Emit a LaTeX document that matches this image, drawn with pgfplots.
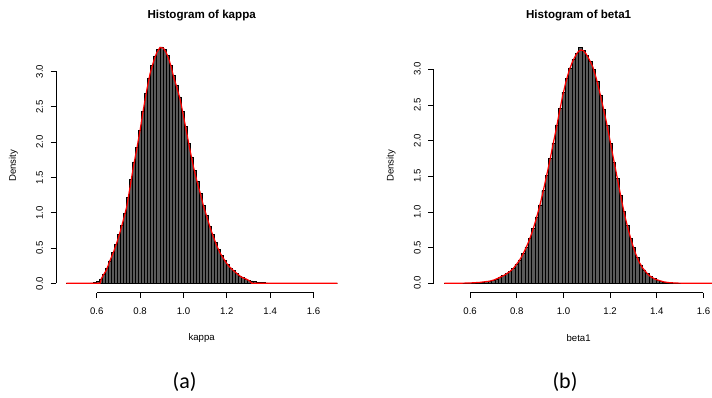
\documentclass[border=0pt]{standalone}
\usepackage{pgfplots}
\pgfplotsset{compat=1.18}
\usepackage{pgfplotstable}
\usepackage{fontspec}
\setmainfont{Liberation Sans}
\newfontfamily\carlito{Carlito}

% bar heights of the histogram of kappa (90 bins, 0.46 .. 1.71), last row repeats
\pgfplotstableread{
h
0
0
0
0
0
0
0.001
0.003
0.007
0.015
0.032
0.065
0.13
0.22
0.32
0.44
0.55
0.69
0.82
0.99
1.22
1.47
1.72
1.93
2.17
2.44
2.69
2.91
3.09
3.22
3.31
3.35
3.31
3.23
3.09
2.94
2.80
2.64
2.44
2.22
1.98
1.79
1.60
1.44
1.27
1.10
0.96
0.81
0.69
0.58
0.48
0.40
0.33
0.27
0.22
0.18
0.14
0.105
0.08
0.062
0.047
0.034
0.024
0.017
0.012
0.009
0.006
0.004
0.003
0.002
0.0015
0.001
0.0007
0.0005
0
0
0
0
0
0
0
0
0
0
0
0
0
0
0
0
0
}\kappahist

% bar heights of the histogram of beta1 (80 bins, 0.49 .. 1.64), last row repeats
\pgfplotstableread{
h
0
0
0.0005
0.0008
0.001
0.002
0.003
0.005
0.007
0.010
0.013
0.017
0.023
0.031
0.043
0.062
0.083
0.107
0.135
0.165
0.21
0.265
0.33
0.42
0.51
0.63
0.77
0.93
1.10
1.30
1.51
1.75
1.97
2.22
2.45
2.68
2.87
3.02
3.14
3.22
3.31
3.26
3.19
3.11
3.00
2.83
2.64
2.44
2.21
1.96
1.70
1.47
1.23
1.01
0.81
0.63
0.50
0.36
0.26
0.19
0.135
0.095
0.068
0.046
0.032
0.020
0.013
0.009
0.005
0.0035
0.002
0.0012
0.0008
0.0004
0.0002
0
0
0
0
0
0
}\betahist

\pgfplotsset{
  rhist/.style={
    scale only axis,
    clip=false,
    axis x line*=bottom, axis y line*=left,
    axis line style={draw=none},
    tick align=outside,
    major tick length=4.1pt,
    every tick/.style={black, line width=0.5pt},
    tick label style={font=\fontsize{7.2}{8}\selectfont},
    /pgf/number format/assume math mode=true,
    /pgf/number format/fixed, /pgf/number format/fixed zerofill,
    /pgf/number format/precision=1,
    xtick={0.6,0.8,1.0,1.2,1.4,1.6},
    ytick={0,0.5,1.0,1.5,2.0,2.5,3.0},
    xticklabel style={yshift=-3.4pt},
    yticklabel style={rotate=90, anchor=south, yshift=2.2pt},
    title style={font=\bfseries\fontsize{8.7}{10}\selectfont, at={(0.5,1)}, anchor=center, yshift=11.25pt},
    every axis x label/.style={at={(axis description cs:0.5,0)}, anchor=center, yshift=-34pt, font=\fontsize{7.2}{8}\selectfont},
    every axis y label/.style={at={(axis description cs:0,0.5)}, rotate=90, anchor=center, yshift=32pt, font=\fontsize{7.2}{8}\selectfont},
    xlabel={}, ylabel={Density},
  },
  hbar/.style={ybar interval=0.64, fill=black!65, draw=black, line width=0.35pt},
  dens/.style={red, line width=0.9pt},
}

\begin{document}
\begin{tikzpicture}
\useasboundingbox (0,0) rectangle (534pt,297.75pt);

\begin{axis}[rhist, at={(42pt,78.2pt)}, anchor=south west,
  width=218.5pt, height=190.3pt,
  xmin=0.412, xmax=1.756, ymin=-0.133, ymax=3.46,
  title={Histogram of kappa}, xlabel={kappa}]
\addplot[hbar] table[x expr={0.46+0.0138889*\coordindex}, y=h] {\kappahist};
\draw[black, line width=0.5pt] (axis cs:0.46,0) -- (axis cs:1.71,0);
\addplot[dens] coordinates {
(0.46,0) (0.615,0) (0.622,0.07) (0.631,0.12) (0.645,0.19) (0.662,0.33) (0.677,0.44)
(0.692,0.57) (0.708,0.73) (0.723,0.90) (0.738,1.08) (0.754,1.37) (0.769,1.65)
(0.785,1.91) (0.80,2.17) (0.815,2.46) (0.831,2.74) (0.846,2.97) (0.862,3.14)
(0.877,3.27) (0.892,3.34) (0.908,3.33) (0.92,3.27) (0.931,3.19) (0.943,3.07)
(0.954,2.93) (0.97,2.77) (0.985,2.60) (1.0,2.37) (1.015,2.13) (1.03,1.89)
(1.046,1.65) (1.061,1.46) (1.077,1.28) (1.092,1.10) (1.108,0.94) (1.123,0.79)
(1.138,0.66) (1.154,0.53) (1.169,0.43) (1.185,0.35) (1.2,0.28) (1.215,0.225)
(1.231,0.18) (1.246,0.14) (1.262,0.10) (1.277,0.075) (1.292,0.057) (1.305,0.035)
(1.315,0) (1.71,0)};
\draw[line width=0.5pt] ({axis cs:0.6,0} |- {rel axis cs:0,0}) -- ({axis cs:1.6,0} |- {rel axis cs:0,0});
\draw[line width=0.5pt] ({rel axis cs:0,0} |- {axis cs:0,0}) -- ({rel axis cs:0,0} |- {axis cs:0,3});
\end{axis}

\begin{axis}[rhist, at={(325.3pt,78.2pt)}, anchor=south west,
  width=217.35pt, height=190.6pt,
  xmin=0.444, xmax=1.686, ymin=-0.132, ymax=3.43,
  title={Histogram of beta1}, xlabel={beta1}]
\addplot[hbar] table[x expr={0.49+0.014375*\coordindex}, y=h] {\betahist};
\draw[black, line width=0.5pt] (axis cs:0.49,0) -- (axis cs:1.64,0);
\addplot[dens] coordinates {
(0.49,0) (0.55,0.001) (0.6,0.005) (0.64,0.013) (0.683,0.03) (0.705,0.05) (0.725,0.08)
(0.747,0.115) (0.768,0.16) (0.783,0.20) (0.797,0.26) (0.811,0.32) (0.825,0.40)
(0.84,0.50) (0.854,0.61) (0.868,0.74) (0.882,0.89) (0.897,1.07) (0.911,1.26)
(0.925,1.47) (0.939,1.68) (0.953,1.91) (0.968,2.15) (0.982,2.39) (0.996,2.62)
(1.01,2.82) (1.025,2.99) (1.039,3.11) (1.053,3.20) (1.064,3.25) (1.075,3.27)
(1.086,3.26) (1.096,3.22) (1.11,3.14) (1.125,3.04) (1.139,2.89) (1.153,2.71)
(1.167,2.51) (1.182,2.29) (1.196,2.06) (1.21,1.82) (1.225,1.57) (1.239,1.33)
(1.253,1.10) (1.267,0.89) (1.282,0.70) (1.296,0.54) (1.31,0.41) (1.324,0.30)
(1.338,0.22) (1.353,0.16) (1.367,0.11) (1.381,0.08) (1.395,0.055) (1.41,0.04)
(1.43,0.02) (1.452,0.01) (1.48,0.004) (1.52,0.001) (1.64,0)};
\draw[line width=0.5pt] ({axis cs:0.6,0} |- {rel axis cs:0,0}) -- ({axis cs:1.6,0} |- {rel axis cs:0,0});
\draw[line width=0.5pt] ({rel axis cs:0,0} |- {axis cs:0,0}) -- ({rel axis cs:0,0} |- {axis cs:0,3});
\end{axis}

\node[font=\carlito\fontsize{16.5}{18}\selectfont] at (138.4pt,11.25pt) {(a)};
\node[font=\carlito\fontsize{16.5}{18}\selectfont] at (423.75pt,11.25pt) {(b)};
\end{tikzpicture}
\end{document}
